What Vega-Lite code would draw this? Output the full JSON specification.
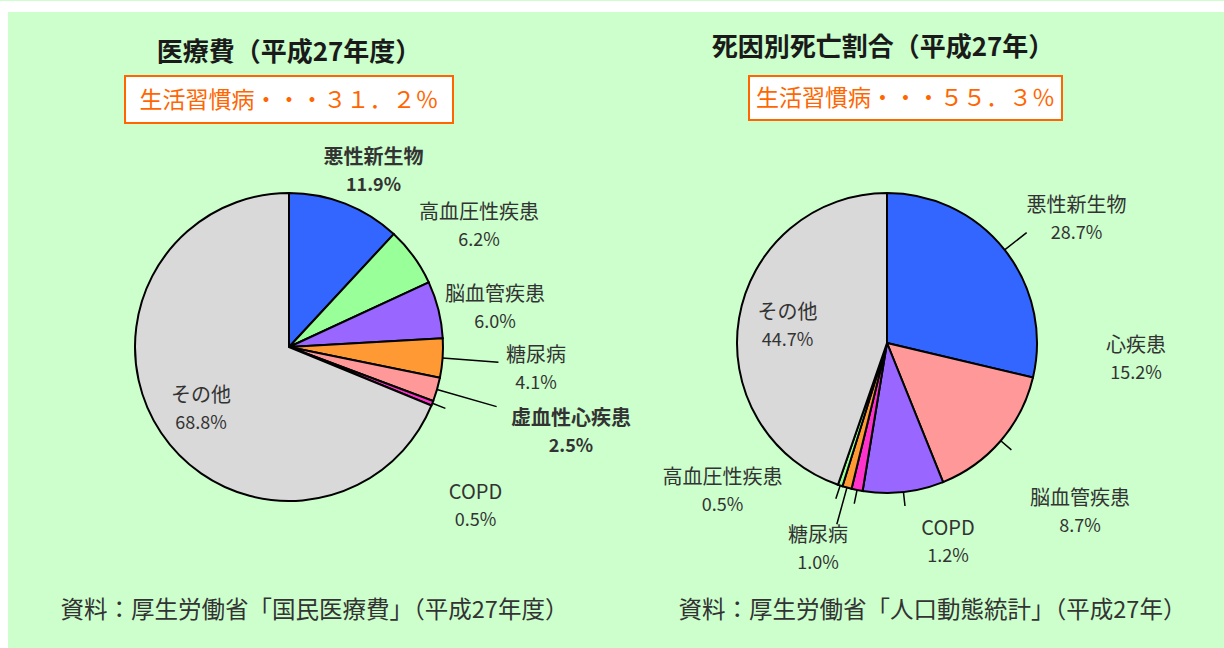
{
  "$schema": "https://vega.github.io/schema/vega-lite/v6.json",
  "background": "#ccffcc",
  "padding": 0,
  "bounds": "flush",
  "spacing": 0,
  "columns": 6,
  "config": {"view": {"stroke": null}, "text": {"font": "Noto Sans CJK JP"}},
  "datasets": {
    "medical": [
      {"cat": "悪性新生物", "value": 11.9, "pct": "11.9%", "rank": 1},
      {"cat": "高血圧性疾患", "value": 6.2, "pct": "6.2%", "rank": 2},
      {"cat": "脳血管疾患", "value": 6.0, "pct": "6.0%", "rank": 3},
      {"cat": "糖尿病", "value": 4.1, "pct": "4.1%", "rank": 4},
      {"cat": "虚血性心疾患", "value": 2.5, "pct": "2.5%", "rank": 5},
      {"cat": "COPD", "value": 0.5, "pct": "0.5%", "rank": 6},
      {"cat": "その他", "value": 68.8, "pct": "68.8%", "rank": 7}
    ],
    "death": [
      {"cat": "悪性新生物", "value": 28.7, "pct": "28.7%", "rank": 1},
      {"cat": "心疾患", "value": 15.2, "pct": "15.2%", "rank": 2},
      {"cat": "脳血管疾患", "value": 8.7, "pct": "8.7%", "rank": 3},
      {"cat": "COPD", "value": 1.2, "pct": "1.2%", "rank": 4},
      {"cat": "糖尿病", "value": 1.0, "pct": "1.0%", "rank": 5},
      {"cat": "高血圧性疾患", "value": 0.5, "pct": "0.5%", "rank": 6},
      {"cat": "その他", "value": 44.7, "pct": "44.7%", "rank": 7}
    ],
    "blank": [{}]
  },
  "concat": [
    {"width": 8, "height": 11, "view": {"fill": "white"}, "data": {"name": "blank"}, "mark": "text", "encoding": {"text": {"value": ""}}},
    {"width": 117, "height": 11, "view": {"fill": "white"}, "data": {"name": "blank"}, "mark": "text", "encoding": {"text": {"value": ""}}},
    {"width": 328, "height": 11, "view": {"fill": "white"}, "data": {"name": "blank"}, "mark": "text", "encoding": {"text": {"value": ""}}},
    {"width": 296, "height": 11, "view": {"fill": "white"}, "data": {"name": "blank"}, "mark": "text", "encoding": {"text": {"value": ""}}},
    {"width": 313, "height": 11, "view": {"fill": "white"}, "data": {"name": "blank"}, "mark": "text", "encoding": {"text": {"value": ""}}},
    {"width": 162, "height": 11, "view": {"fill": "white"}, "data": {"name": "blank"}, "mark": "text", "encoding": {"text": {"value": ""}}},

    {"width": 8, "height": 64, "view": {"fill": "white"}, "data": {"name": "blank"}, "mark": "text", "encoding": {"text": {"value": ""}}},
    {"width": 117, "height": 64, "data": {"name": "blank"}, "mark": "text", "encoding": {"text": {"value": ""}}},
    {"width": 328, "height": 64, "data": {"values": [{"t": "医療費（平成27年度）"}]}, "mark": {"type": "text", "fontSize": 26, "fontWeight": "bold", "fill": "#1a1a1a", "dy": 9}, "encoding": {"text": {"field": "t"}}},
    {"width": 296, "height": 64, "data": {"name": "blank"}, "mark": "text", "encoding": {"text": {"value": ""}}},
    {"width": 268, "height": 64, "data": {"values": [{"t": "死因別死亡割合（平成27年）"}]}, "mark": {"type": "text", "fontSize": 26, "fontWeight": "bold", "fill": "#1a1a1a", "dy": 4}, "encoding": {"text": {"field": "t"}}},
    {"width": 162, "height": 64, "data": {"name": "blank"}, "mark": "text", "encoding": {"text": {"value": ""}}},

    {"width": 8, "height": 47, "view": {"fill": "white"}, "data": {"name": "blank"}, "mark": "text", "encoding": {"text": {"value": ""}}},
    {"width": 117, "height": 47, "data": {"name": "blank"}, "mark": "text", "encoding": {"text": {"value": ""}}},
    {"width": 328, "height": 47, "view": {"fill": "white", "stroke": "#ff6600", "strokeWidth": 2}, "data": {"values": [{"t": "生活習慣病・・・３１．２％"}]}, "mark": {"type": "text", "fontSize": 23, "fill": "#ff6600", "dy": 1}, "encoding": {"text": {"field": "t"}}},
    {"width": 296, "height": 47, "data": {"name": "blank"}, "mark": "text", "encoding": {"text": {"value": ""}}},
    {"width": 313, "height": 44, "view": {"fill": "white", "stroke": "#ff6600", "strokeWidth": 2}, "data": {"values": [{"t": "生活習慣病・・・５５．３％"}]}, "mark": {"type": "text", "fontSize": 23, "fill": "#ff6600", "dy": 1}, "encoding": {"text": {"field": "t"}}},
    {"width": 162, "height": 47, "data": {"name": "blank"}, "mark": "text", "encoding": {"text": {"value": ""}}},

    {"width": 8, "height": 448, "view": {"fill": "white"}, "data": {"name": "blank"}, "mark": "text", "encoding": {"text": {"value": ""}}},
    {"width": 117, "height": 448, "data": {"name": "blank"}, "mark": "text", "encoding": {"text": {"value": ""}}},
    {
      "width": 328, "height": 448,
      "data": {"name": "medical"},
      "encoding": {
        "theta": {"field": "value", "type": "quantitative", "stack": true},
        "order": {"field": "rank", "type": "quantitative"},
        "detail": {"field": "cat"}
      },
      "layer": [
        {"mark": {"type": "arc", "radius": 154, "stroke": "black", "strokeWidth": 2},
         "encoding": {"color": {"field": "cat", "type": "nominal", "legend": null,
           "scale": {"domain": ["悪性新生物", "高血圧性疾患", "脳血管疾患", "糖尿病", "虚血性心疾患", "心疾患", "COPD", "その他"],
                     "range": ["#3366ff", "#99ff99", "#9966ff", "#ff9933", "#ff9999", "#ff9999", "#ff33cc", "#d9d9d9"]}}}},
        {"mark": {"type": "arc", "radius": 210, "radius2": 154, "padAngle": 3, "stroke": "black", "strokeWidth": 1.5, "fillOpacity": 0},
         "encoding": {"strokeOpacity": {"condition": {"test": "datum.cat === '糖尿病'", "value": 1}, "value": 0}}},
        {"mark": {"type": "arc", "radius": 216, "radius2": 154, "padAngle": 3, "stroke": "black", "strokeWidth": 1.5, "fillOpacity": 0},
         "encoding": {"strokeOpacity": {"condition": {"test": "datum.cat === '虚血性心疾患'", "value": 1}, "value": 0}}},
        {"mark": {"type": "arc", "radius": 168, "radius2": 154, "padAngle": 3, "stroke": "black", "strokeWidth": 1.5, "fillOpacity": 0},
         "encoding": {"strokeOpacity": {"condition": {"test": "datum.cat === 'COPD'", "value": 1}, "value": 0}}},

        {"mark": {"type": "text", "radius": 194, "dx": 13.6, "dy": -8.4, "fontSize": 20, "fontWeight": "bold", "fill": "#333333"},
         "encoding": {"text": {"condition": {"test": "datum.cat === '悪性新生物'", "field": "cat", "type": "nominal"}, "value": ""}}},
        {"mark": {"type": "text", "radius": 194, "dx": 13.6, "dy": 19.6, "fontSize": 18, "fontWeight": "bold", "fill": "#333333"},
         "encoding": {"text": {"condition": {"test": "datum.cat === '悪性新生物'", "field": "pct", "type": "nominal"}, "value": ""}}},
        {"mark": {"type": "text", "radius": 224, "dx": 8.8, "dy": -2.8, "fontSize": 20, "fill": "#333333"},
         "encoding": {"text": {"condition": {"test": "datum.cat === '高血圧性疾患'", "field": "cat", "type": "nominal"}, "value": ""}}},
        {"mark": {"type": "text", "radius": 224, "dx": 8.8, "dy": 25.2, "fontSize": 18, "fill": "#333333"},
         "encoding": {"text": {"condition": {"test": "datum.cat === '高血圧性疾患'", "field": "pct", "type": "nominal"}, "value": ""}}},
        {"mark": {"type": "text", "radius": 209, "dx": 3.3, "dy": -1.3, "fontSize": 20, "fill": "#333333"},
         "encoding": {"text": {"condition": {"test": "datum.cat === '脳血管疾患'", "field": "cat", "type": "nominal"}, "value": ""}}},
        {"mark": {"type": "text", "radius": 209, "dx": 3.3, "dy": 26.7, "fontSize": 18, "fill": "#333333"},
         "encoding": {"text": {"condition": {"test": "datum.cat === '脳血管疾患'", "field": "pct", "type": "nominal"}, "value": ""}}},
        {"mark": {"type": "text", "radius": 248, "dx": -0.4, "dy": -9.4, "fontSize": 20, "fill": "#333333"},
         "encoding": {"text": {"condition": {"test": "datum.cat === '糖尿病'", "field": "cat", "type": "nominal"}, "value": ""}}},
        {"mark": {"type": "text", "radius": 248, "dx": -0.4, "dy": 18.6, "fontSize": 18, "fill": "#333333"},
         "encoding": {"text": {"condition": {"test": "datum.cat === '糖尿病'", "field": "pct", "type": "nominal"}, "value": ""}}},
        {"mark": {"type": "text", "radius": 295, "dx": -1.6, "dy": -9.4, "fontSize": 20, "fontWeight": "bold", "fill": "#333333"},
         "encoding": {"text": {"condition": {"test": "datum.cat === '虚血性心疾患'", "field": "cat", "type": "nominal"}, "value": ""}}},
        {"mark": {"type": "text", "radius": 295, "dx": -1.6, "dy": 18.6, "fontSize": 18, "fontWeight": "bold", "fill": "#333333"},
         "encoding": {"text": {"condition": {"test": "datum.cat === '虚血性心疾患'", "field": "pct", "type": "nominal"}, "value": ""}}},
        {"mark": {"type": "text", "radius": 232, "dx": -29.5, "dy": 61.3, "fontSize": 20, "fill": "#333333"},
         "encoding": {"text": {"condition": {"test": "datum.cat === 'COPD'", "field": "cat", "type": "nominal"}, "value": ""}}},
        {"mark": {"type": "text", "radius": 232, "dx": -29.5, "dy": 89.3, "fontSize": 18, "fill": "#333333"},
         "encoding": {"text": {"condition": {"test": "datum.cat === 'COPD'", "field": "pct", "type": "nominal"}, "value": ""}}},
        {"mark": {"type": "text", "radius": 108, "dx": 1.7, "dy": -11.6, "fontSize": 20, "fill": "#333333"},
         "encoding": {"text": {"condition": {"test": "datum.cat === 'その他'", "field": "cat", "type": "nominal"}, "value": ""}}},
        {"mark": {"type": "text", "radius": 108, "dx": 1.7, "dy": 16.4, "fontSize": 18, "fill": "#333333"},
         "encoding": {"text": {"condition": {"test": "datum.cat === 'その他'", "field": "pct", "type": "nominal"}, "value": ""}}}
      ]
    },
    {"width": 296, "height": 448, "data": {"name": "blank"}, "mark": "text", "encoding": {"text": {"value": ""}}},
    {
      "width": 276, "height": 440,
      "data": {"name": "death"},
      "encoding": {
        "theta": {"field": "value", "type": "quantitative", "stack": true},
        "order": {"field": "rank", "type": "quantitative"},
        "detail": {"field": "cat"}
      },
      "layer": [
        {"mark": {"type": "arc", "radius": 150, "stroke": "black", "strokeWidth": 2},
         "encoding": {"color": {"field": "cat", "type": "nominal", "legend": null,
           "scale": {"domain": ["悪性新生物", "高血圧性疾患", "脳血管疾患", "糖尿病", "虚血性心疾患", "心疾患", "COPD", "その他"],
                     "range": ["#3366ff", "#99ff99", "#9966ff", "#ff9933", "#ff9999", "#ff9999", "#ff33cc", "#d9d9d9"]}}}},
        {"mark": {"type": "arc", "radius": 178, "radius2": 150, "padAngle": 3, "stroke": "black", "strokeWidth": 1.5, "fillOpacity": 0},
         "encoding": {"strokeOpacity": {"condition": {"test": "datum.cat === '悪性新生物'", "value": 1}, "value": 0}}},
        {"mark": {"type": "arc", "radius": 188, "radius2": 150, "padAngle": 3, "stroke": "black", "strokeWidth": 1.5, "fillOpacity": 0},
         "encoding": {"strokeOpacity": {"condition": {"test": "datum.cat === '糖尿病'", "value": 1}, "value": 0}}},
        {"mark": {"type": "arc", "radius": 164, "radius2": 150, "padAngle": 3, "stroke": "black", "strokeWidth": 1.5, "fillOpacity": 0},
         "encoding": {"strokeOpacity": {"condition": {"test": "indexof(['心疾患', '脳血管疾患', 'COPD', '高血圧性疾患'], datum.cat) >= 0", "value": 1}, "value": 0}}},

        {"mark": {"type": "text", "radius": 225, "dx": 13, "dy": 2.5, "fontSize": 20, "fill": "#333333"},
         "encoding": {"text": {"condition": {"test": "datum.cat === '悪性新生物'", "field": "cat", "type": "nominal"}, "value": ""}}},
        {"mark": {"type": "text", "radius": 225, "dx": 13, "dy": 30.5, "fontSize": 18, "fill": "#333333"},
         "encoding": {"text": {"condition": {"test": "datum.cat === '悪性新生物'", "field": "pct", "type": "nominal"}, "value": ""}}},
        {"mark": {"type": "text", "radius": 200, "dx": 97.3, "dy": -127.4, "fontSize": 20, "fill": "#333333"},
         "encoding": {"text": {"condition": {"test": "datum.cat === '心疾患'", "field": "cat", "type": "nominal"}, "value": ""}}},
        {"mark": {"type": "text", "radius": 200, "dx": 97.3, "dy": -99.4, "fontSize": 18, "fill": "#333333"},
         "encoding": {"text": {"condition": {"test": "datum.cat === '心疾患'", "field": "pct", "type": "nominal"}, "value": ""}}},
        {"mark": {"type": "text", "radius": 191, "dx": 172, "dy": -33.4, "fontSize": 20, "fill": "#333333"},
         "encoding": {"text": {"condition": {"test": "datum.cat === '脳血管疾患'", "field": "cat", "type": "nominal"}, "value": ""}}},
        {"mark": {"type": "text", "radius": 191, "dx": 172, "dy": -5.4, "fontSize": 18, "fill": "#333333"},
         "encoding": {"text": {"condition": {"test": "datum.cat === '脳血管疾患'", "field": "pct", "type": "nominal"}, "value": ""}}},
        {"mark": {"type": "text", "radius": 184, "dx": 97.8, "dy": 6.2, "fontSize": 20, "fill": "#333333"},
         "encoding": {"text": {"condition": {"test": "datum.cat === 'COPD'", "field": "cat", "type": "nominal"}, "value": ""}}},
        {"mark": {"type": "text", "radius": 184, "dx": 97.8, "dy": 34.2, "fontSize": 18, "fill": "#333333"},
         "encoding": {"text": {"condition": {"test": "datum.cat === 'COPD'", "field": "pct", "type": "nominal"}, "value": ""}}},
        {"mark": {"type": "text", "radius": 218, "dx": -10.8, "dy": -17.1, "fontSize": 20, "fill": "#333333"},
         "encoding": {"text": {"condition": {"test": "datum.cat === '糖尿病'", "field": "cat", "type": "nominal"}, "value": ""}}},
        {"mark": {"type": "text", "radius": 218, "dx": -10.8, "dy": 10.9, "fontSize": 18, "fill": "#333333"},
         "encoding": {"text": {"condition": {"test": "datum.cat === '糖尿病'", "field": "pct", "type": "nominal"}, "value": ""}}},
        {"mark": {"type": "text", "radius": 193, "dx": -104.3, "dy": -48.4, "fontSize": 20, "fill": "#333333"},
         "encoding": {"text": {"condition": {"test": "datum.cat === '高血圧性疾患'", "field": "cat", "type": "nominal"}, "value": ""}}},
        {"mark": {"type": "text", "radius": 193, "dx": -104.3, "dy": -20.4, "fontSize": 18, "fill": "#333333"},
         "encoding": {"text": {"condition": {"test": "datum.cat === '高血圧性疾患'", "field": "pct", "type": "nominal"}, "value": ""}}},
        {"mark": {"type": "text", "radius": 101, "dx": 0.1, "dy": -13.3, "fontSize": 20, "fill": "#333333"},
         "encoding": {"text": {"condition": {"test": "datum.cat === 'その他'", "field": "cat", "type": "nominal"}, "value": ""}}},
        {"mark": {"type": "text", "radius": 101, "dx": 0.1, "dy": 14.7, "fontSize": 18, "fill": "#333333"},
         "encoding": {"text": {"condition": {"test": "datum.cat === 'その他'", "field": "pct", "type": "nominal"}, "value": ""}}}
      ]
    },
    {"width": 162, "height": 448, "data": {"name": "blank"}, "mark": "text", "encoding": {"text": {"value": ""}}},

    {"width": 8, "height": 78, "view": {"fill": "white"}, "data": {"name": "blank"}, "mark": "text", "encoding": {"text": {"value": ""}}},
    {"width": 117, "height": 78, "data": {"name": "blank"}, "mark": "text", "encoding": {"text": {"value": ""}}},
    {"width": 328, "height": 78, "data": {"values": [{"t": "資料：厚生労働省「国民医療費」（平成27年度）"}]}, "mark": {"type": "text", "fontSize": 23.5, "fill": "#333333", "dx": 25.5, "dy": 1}, "encoding": {"text": {"field": "t"}}},
    {"width": 296, "height": 78, "data": {"name": "blank"}, "mark": "text", "encoding": {"text": {"value": ""}}},
    {"width": 313, "height": 78, "data": {"values": [{"t": "資料：厚生労働省「人口動態統計」（平成27年）"}]}, "mark": {"type": "text", "fontSize": 23.5, "fill": "#333333", "dx": 27, "dy": 1}, "encoding": {"text": {"field": "t"}}},
    {"width": 162, "height": 78, "data": {"name": "blank"}, "mark": "text", "encoding": {"text": {"value": ""}}}
  ]
}
